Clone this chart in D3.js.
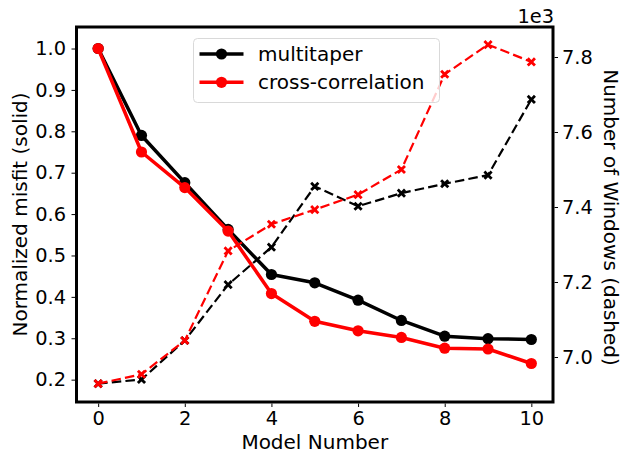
<!DOCTYPE html>
<html>
<head>
<meta charset="utf-8">
<script src="https://cdn.jsdelivr.net/npm/d3@7"></script>
<style>
  html, body { margin: 0; padding: 0; background: #fff; }
  svg { display: block; font-family: "DejaVu Sans", sans-serif; }
</style>
</head>
<body>
<svg id="chart" width="622" height="452"></svg>
<script>
// Model iterations
const models = [0, 1, 2, 3, 4, 5, 6, 7, 8, 9, 10];

// Normalized misfit per model (left axis, solid lines)
const misfitMultitaper = [1.0, 0.790, 0.676, 0.563, 0.454, 0.434, 0.392, 0.343, 0.305, 0.299, 0.297];
const misfitCrossCorr  = [1.0, 0.750, 0.664, 0.559, 0.408, 0.341, 0.318, 0.302, 0.276, 0.274, 0.239];

// Number of measurement windows per model (right axis, dashed lines)
const windowsMultitaper = [6929, 6940, 7044, 7193, 7293, 7455, 7402, 7437, 7462, 7485, 7687];
const windowsCrossCorr  = [6929, 6954, 7044, 7283, 7354, 7393, 7433, 7500, 7754, 7833, 7787];

// Tick values
const xTicks = [0, 2, 4, 6, 8, 10];
const leftTicks = [0.2, 0.3, 0.4, 0.5, 0.6, 0.7, 0.8, 0.9, 1.0];
const rightTicks = [7000, 7200, 7400, 7600, 7800];

const svg = d3.select("#chart");
const TICK_FONT = 19.4;
const LABEL_FONT = 20;
const box = { left: 76.5, right: 553, top: 27, bottom: 402 };

const x = d3.scaleLinear().domain([-0.5, 10.5]).range([box.left, box.right]);
const yL = d3.scaleLinear().domain([0.146, 1.052]).range([box.bottom, box.top]);
const yR = d3.scaleLinear().domain([6880, 7880]).range([box.bottom, box.top]);

const spineW = 3;

// Axes
function styleAxis(g) {
  g.select(".domain").remove();
  g.selectAll(".tick line").attr("stroke", "#000").attr("stroke-width", 1);
  g.selectAll(".tick text").attr("fill", "#000").style("font-size", TICK_FONT + "px")
    .style("font-family", '"DejaVu Sans", sans-serif');
}

svg.append("g")
  .attr("transform", `translate(0,${box.bottom + spineW / 2})`)
  .call(d3.axisBottom(x).tickValues(xTicks).tickFormat(d3.format("d")).tickSize(3.5).tickPadding(4))
  .call(styleAxis);

svg.append("g")
  .attr("transform", `translate(${box.left - spineW / 2},0)`)
  .call(d3.axisLeft(yL).tickValues(leftTicks).tickFormat(d3.format(".1f")).tickSize(3.5).tickPadding(5.5))
  .call(styleAxis);

svg.append("g")
  .attr("transform", `translate(${box.right + spineW / 2},0)`)
  .call(d3.axisRight(yR).tickValues(rightTicks).tickFormat(d => d3.format(".1f")(d / 1000)).tickSize(3.5).tickPadding(4))
  .call(styleAxis);

// Axis labels
svg.append("text")
  .attr("x", (box.left + box.right) / 2).attr("y", 448.5)
  .attr("text-anchor", "middle").style("font-size", LABEL_FONT + "px")
  .text("Model Number");

svg.append("text")
  .attr("transform", `translate(27,${(box.top + box.bottom) / 2}) rotate(-90)`)
  .attr("text-anchor", "middle").style("font-size", LABEL_FONT + "px")
  .text("Normalized misfit (solid)");

svg.append("text")
  .attr("transform", `translate(604,${(box.top + box.bottom) / 2 + 3}) rotate(90)`)
  .attr("text-anchor", "middle").style("font-size", LABEL_FONT + "px")
  .text("Number of Windows (dashed)");

svg.append("text")
  .attr("x", box.right + 1).attr("y", 23)
  .attr("text-anchor", "end").style("font-size", TICK_FONT + "px")
  .text("1e3");

// Clip to the plot box
svg.append("defs").append("clipPath").attr("id", "plot-clip")
  .append("rect")
  .attr("x", box.left).attr("y", box.top)
  .attr("width", box.right - box.left).attr("height", box.bottom - box.top);

const plot = svg.append("g").attr("clip-path", "url(#plot-clip)");

function solidSeries(values, color) {
  const line = d3.line().x((d, i) => x(models[i])).y(d => yL(d));
  plot.append("path").datum(values)
    .attr("fill", "none").attr("stroke", color).attr("stroke-width", 3.5)
    .attr("stroke-linejoin", "round").attr("d", line);
  plot.selectAll(null).data(values).enter().append("circle")
    .attr("cx", (d, i) => x(models[i])).attr("cy", d => yL(d))
    .attr("r", 5.6).attr("fill", color);
}

// Filled "X" marker
const xMarker = "M-4.6,-2.6L-2.6,-4.6L0,-2L2.6,-4.6L4.6,-2.6L2,0L4.6,2.6L2.6,4.6L0,2L-2.6,4.6L-4.6,2.6L-2,0Z";

function dashedSeries(values, color) {
  const line = d3.line().x((d, i) => x(models[i])).y(d => yR(d));
  plot.append("path").datum(values)
    .attr("fill", "none").attr("stroke", color).attr("stroke-width", 2.2)
    .attr("stroke-dasharray", "9.5,4.2").attr("d", line);
  plot.selectAll(null).data(values).enter().append("path")
    .attr("transform", (d, i) => `translate(${x(models[i])},${yR(d)})`)
    .attr("d", xMarker).attr("fill", color);
}

solidSeries(misfitMultitaper, "#000000");
solidSeries(misfitCrossCorr, "#ff0000");
dashedSeries(windowsMultitaper, "#000000");
dashedSeries(windowsCrossCorr, "#ff0000");

// Frame
svg.append("rect")
  .attr("x", box.left).attr("y", box.top)
  .attr("width", box.right - box.left).attr("height", box.bottom - box.top)
  .attr("fill", "none").attr("stroke", "#000").attr("stroke-width", spineW);

// Legend
const legend = svg.append("g");
legend.append("rect")
  .attr("x", 193.5).attr("y", 38.5).attr("width", 246).attr("height", 64)
  .attr("rx", 4).attr("fill", "#fff").attr("fill-opacity", 0.8)
  .attr("stroke", "#d9d9d9").attr("stroke-width", 1);

const legendItems = [
  { label: "multitaper", color: "#000000" },
  { label: "cross-correlation", color: "#ff0000" }
];
legendItems.forEach((item, i) => {
  const cy = 54 + i * 28.3;
  legend.append("line").attr("x1", 199.5).attr("x2", 243.5).attr("y1", cy).attr("y2", cy)
    .attr("stroke", item.color).attr("stroke-width", 3.5);
  legend.append("circle").attr("cx", 221.5).attr("cy", cy).attr("r", 5.6).attr("fill", item.color);
  legend.append("text").attr("x", 258).attr("y", cy + 7)
    .style("font-size", LABEL_FONT + "px").text(item.label);
});
</script>
</body>
</html>
